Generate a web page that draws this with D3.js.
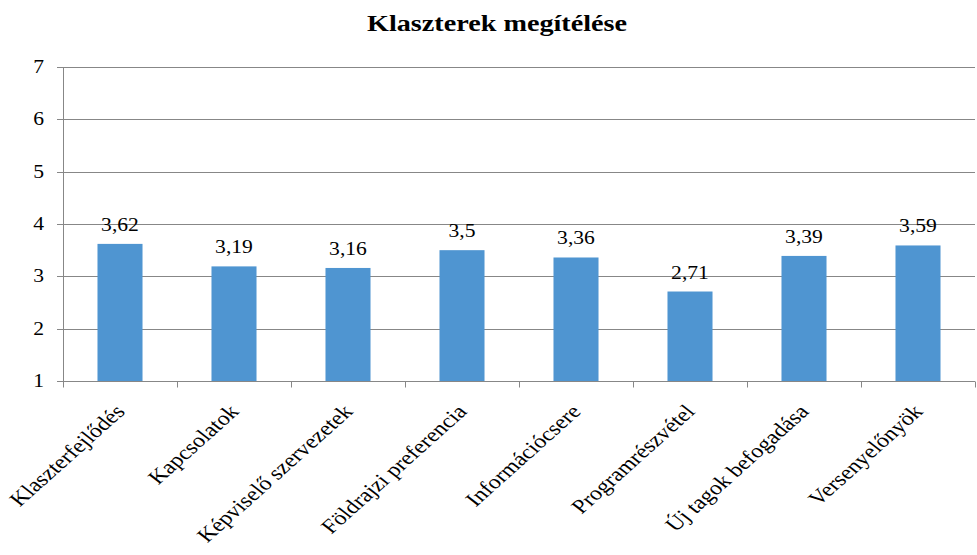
<!DOCTYPE html>
<html>
<head>
<meta charset="utf-8">
<script src="https://cdn.jsdelivr.net/npm/d3@7"></script>
<style>
  body { margin: 0; background: #fff; }
  svg text { font-family: "Liberation Serif", "Times New Roman", serif; fill: #000; }
</style>
</head>
<body>
<div class="chart"></div>
<script>
// adatok
const categories = ['Klaszterfejlődés', 'Kapcsolatok', 'Képviselő szervezetek', 'Földrajzi preferencia',
  'Információcsere', 'Programrészvétel', 'Új tagok befogadása', 'Versenyelőnyök']
const values = [3.62, 3.19, 3.16, 3.5, 3.36, 2.71, 3.39, 3.59]
const yTicks = [1, 2, 3, 4, 5, 6, 7]
const title = 'Klaszterek megítélése'

const svg_width = 977
const svg_height = 555
const margin = { top: 67, right: 2, bottom: 174, left: 63 }
const chart_width = svg_width - margin.left - margin.right
const chart_height = svg_height - margin.top - margin.bottom
const stretch = 1.2 // a szöveg vízszintesen nyújtott

const svg = d3.select('.chart').append('svg')
  .attr('width', svg_width).attr('height', svg_height)

const g = svg.append('g').attr('transform', `translate(${margin.left}, ${margin.top})`)

const xScale = d3.scaleBand().domain(categories).range([0, chart_width]).paddingInner(0.605).paddingOuter(0.3025)
const xBand = d3.scaleBand().domain(categories).range([0, chart_width])
const yScale = d3.scaleLinear([1, 7], [chart_height, 0])

// title
svg.append('text')
  .attr('transform', `translate(497, 31) scale(${stretch},1)`)
  .attr('text-anchor', 'middle')
  .style('font-size', '23.5px').style('font-weight', 'bold')
  .text(title)

// gridlines
g.append('g').selectAll('line').data(yTicks.slice(1)).join('line')
  .attr('x1', 0).attr('x2', chart_width)
  .attr('y1', d => Math.round(yScale(d)) + 0.5).attr('y2', d => Math.round(yScale(d)) + 0.5)
  .attr('stroke', '#878787').attr('stroke-width', 1)

// y axis
const yAxisDraw = g.append('g').attr('class', 'y axis')
yAxisDraw.append('line').attr('x1', 0.5).attr('x2', 0.5).attr('y1', 0).attr('y2', chart_height)
  .attr('stroke', '#878787')
yAxisDraw.selectAll('.tick').data(yTicks).join('line')
  .attr('class', 'tick')
  .attr('x1', -6).attr('x2', 0)
  .attr('y1', d => Math.round(yScale(d)) + 0.5).attr('y2', d => Math.round(yScale(d)) + 0.5)
  .attr('stroke', '#878787')
yAxisDraw.selectAll('text').data(yTicks).join('text')
  .attr('transform', d => `translate(-19, ${yScale(d)}) scale(${stretch},1)`)
  .attr('dy', '0.33em')
  .attr('text-anchor', 'end')
  .style('font-size', '18px')
  .text(d => d)

// bars
g.append('g').selectAll('rect').data(values).join('rect')
  .attr('x', (d, i) => xScale(categories[i]))
  .attr('y', d => yScale(d))
  .attr('width', xScale.bandwidth())
  .attr('height', d => yScale(1) - yScale(d))
  .attr('fill', '#4f95d1')

// x axis
const xAxisDraw = g.append('g').attr('transform', `translate(0, ${chart_height + 0.5})`)
xAxisDraw.append('line').attr('x1', 0).attr('x2', chart_width).attr('stroke', '#878787')
xAxisDraw.selectAll('.tick').data(categories.map(c => xBand(c)).concat([chart_width])).join('line')
  .attr('class', 'tick')
  .attr('x1', d => Math.round(d) + 0.5).attr('x2', d => Math.round(d) + 0.5)
  .attr('y1', 0).attr('y2', 6).attr('stroke', '#878787')

xAxisDraw.selectAll('text').data(categories).join('text')
  .attr('text-anchor', 'end')
  .attr('transform', d => `translate(${xBand(d) + xBand.bandwidth() / 2 + 6}, 31) scale(${stretch},1) rotate(-47)`)
  .style('font-size', '20px')
  .text(d => d)

// value labels
g.append('g').selectAll('text').data(values).join('text')
  .attr('transform', (d, i) => `translate(${xScale(categories[i]) + xScale.bandwidth() / 2}, ${yScale(d) - 13}) scale(${stretch},1)`)
  .attr('text-anchor', 'middle')
  .style('font-size', '18px')
  .text(d => String(d).replace('.', ','))
</script>
</body>
</html>
